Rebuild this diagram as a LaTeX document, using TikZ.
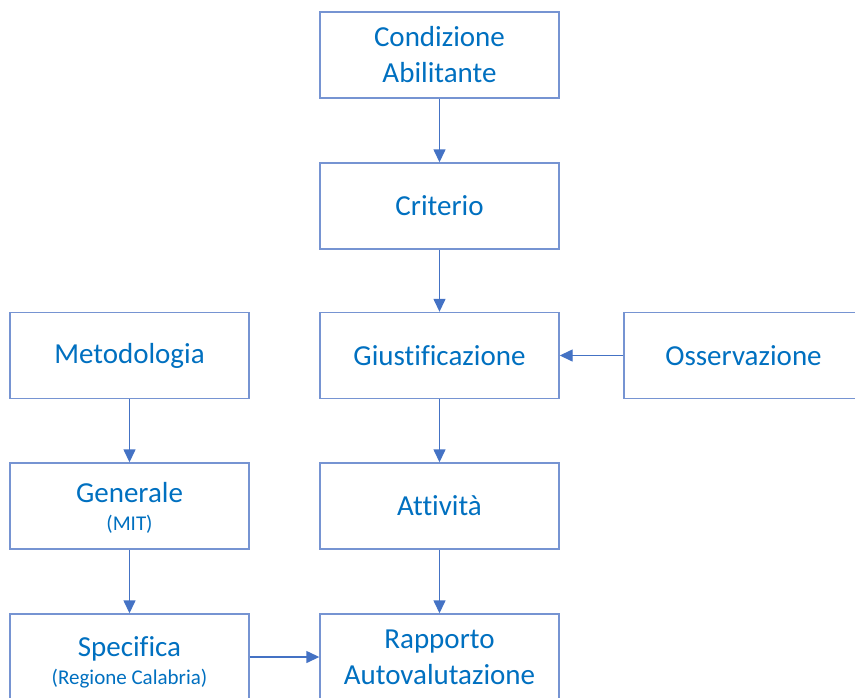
\documentclass[tikz,border=0pt]{standalone}
\usepackage{fontspec}
\setmainfont{Carlito}[Ligatures=CommonOff]
\usetikzlibrary{arrows.meta}
\definecolor{txtblue}{HTML}{0070C0}
\definecolor{boxblue}{RGB}{118,148,210}
\definecolor{arrblue}{HTML}{4472C4}
\tikzset{
  box/.style={draw=boxblue, line width=1.4pt, fill=white, minimum width=239pt, minimum height=86pt,
    inner sep=0pt, align=center, text=txtblue, font=\fontsize{29}{36}\selectfont},
  txt/.style={inner sep=0pt, align=center, text=txtblue, font=\fontsize{29}{36}\selectfont},
  conn/.style={draw=arrblue, line width=1.4pt, -{Triangle[length=13pt,width=12pt]}}
}
\newcommand{\smalltxt}[1]{{\fontsize{21}{25}\selectfont #1}}
\begin{document}
\begin{tikzpicture}[x=1pt,y=-1pt]
\useasboundingbox (0,0) rectangle (855,697);
\clip (0,0) rectangle (855,697);
\node[box] (cond) at (439.5,55) {Condizione\\Abilitante};
\node[box] (crit) at (439.5,206) {Criterio};
\node[box] (giust) at (439.5,355.5) {Giustificazione};
\node[box] (oss) at (743.5,355.5) {Osservazione};
\node[box] (met) at (129.5,355.5) {Metodologia};
\node[box] (gen) at (129.5,506) {};
\node[txt] (gent) at ([yshift=-2pt]gen.center) {Generale\\[-8pt]\smalltxt{(MIT)}};
\node[box] (att) at (439.5,506) {Attività};
\node[box] (spec) at (129.5,657) {};
\node[txt] (spect) at ([yshift=-5pt]spec.center) {Specifica\\[-8pt]\smalltxt{(Regione Calabria)}};
\node[box] (rap) at (439.5,657) {Rapporto\\Autovalutazione};
\draw[conn] (cond) -- (crit);
\draw[conn] (crit) -- (giust);
\draw[conn] (giust) -- (att);
\draw[conn] (att) -- (rap);
\draw[conn] (oss) -- (giust);
\draw[conn] (met) -- (gen);
\draw[conn] (gen) -- (spec);
\draw[conn] (spec) -- (rap);
\end{tikzpicture}
\end{document}
